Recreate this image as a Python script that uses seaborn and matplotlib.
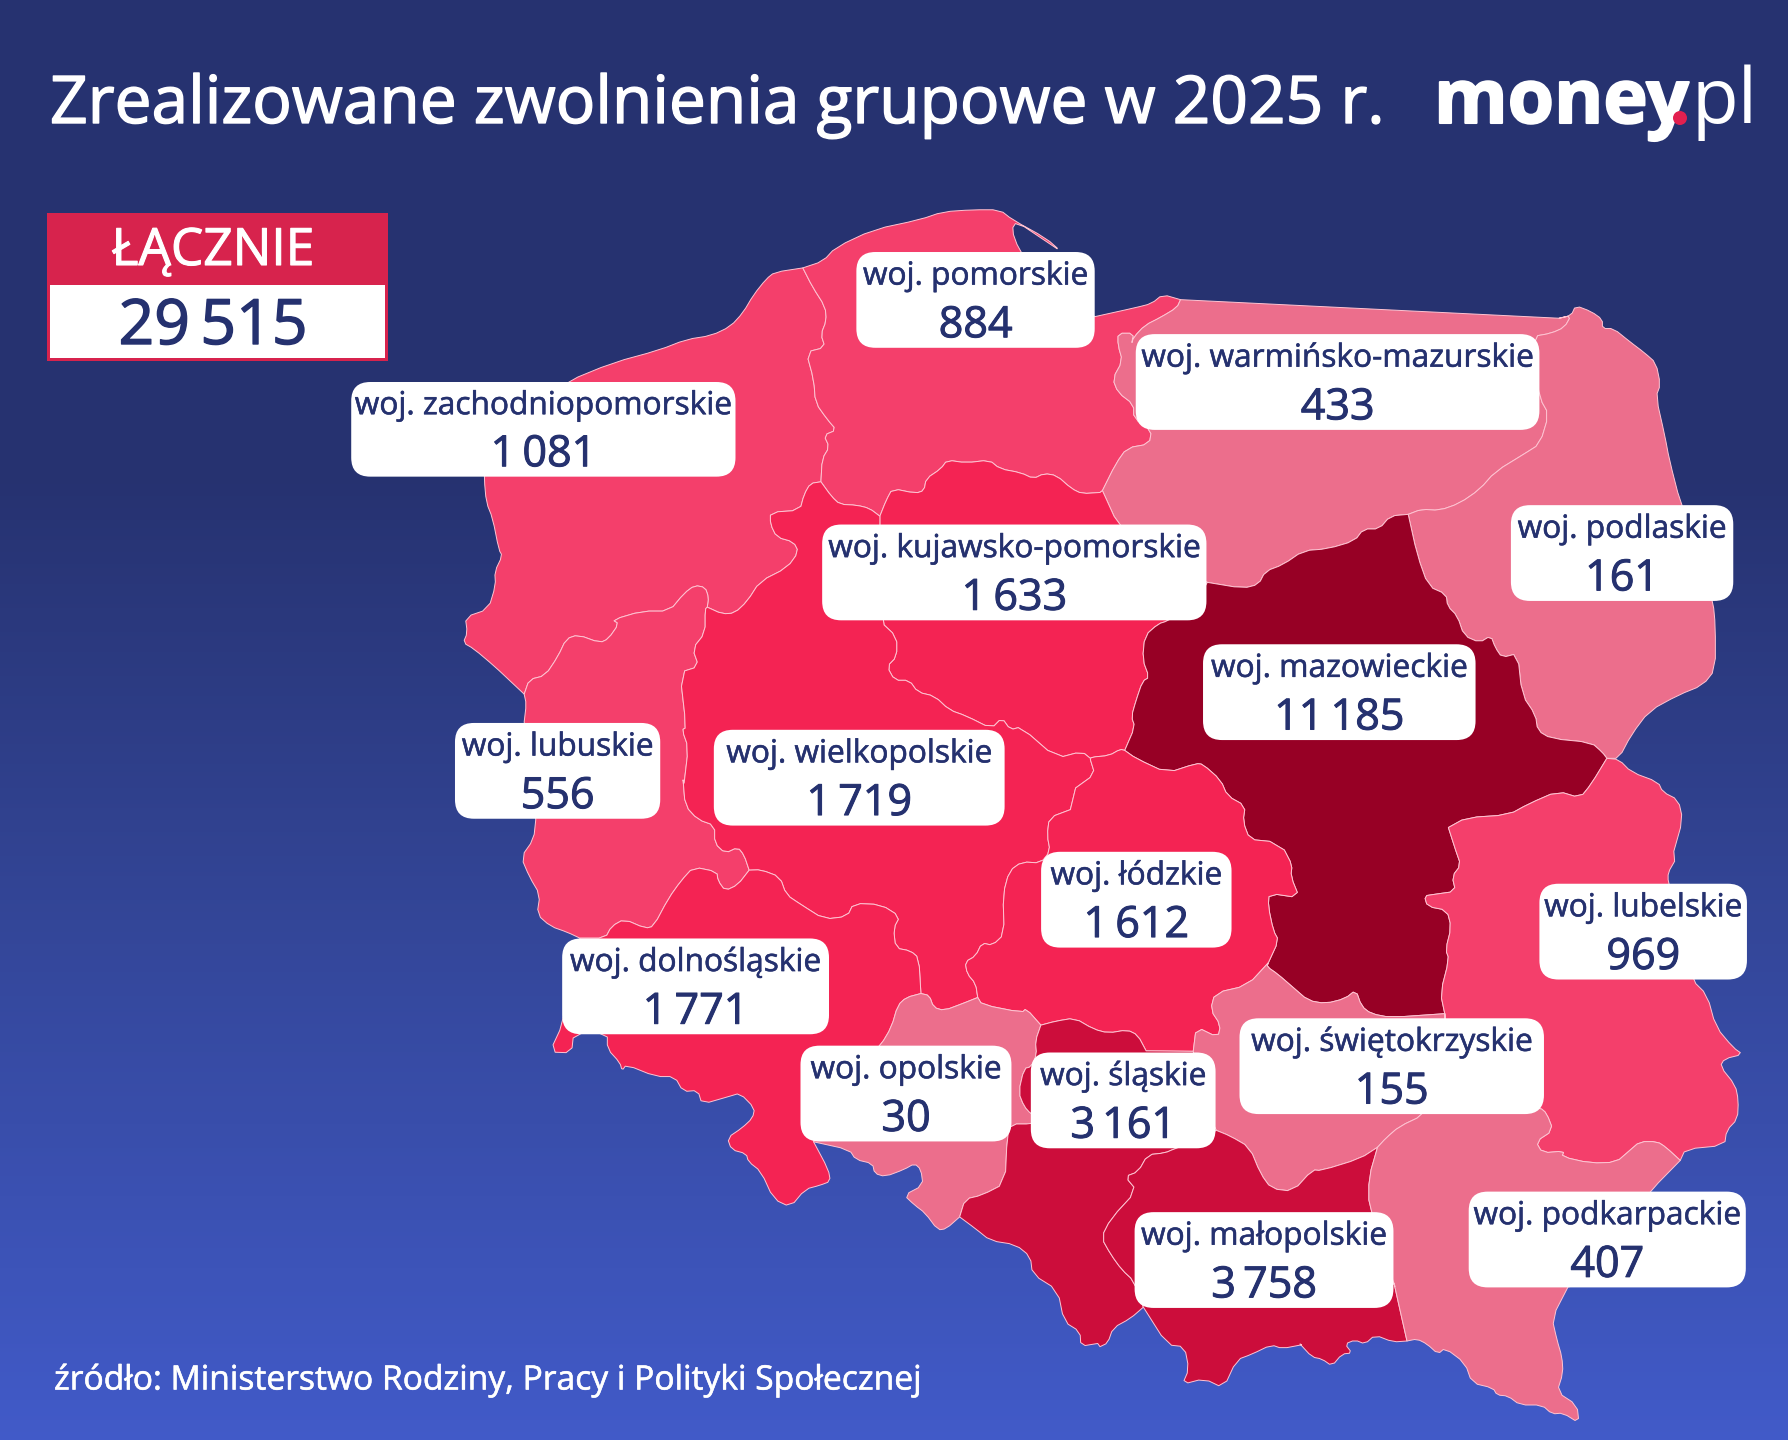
import numpy as np
import matplotlib
matplotlib.use('Agg')
import matplotlib.pyplot as plt
import matplotlib.patheffects as pe
from matplotlib.patches import FancyBboxPatch, Rectangle, Circle
import seaborn as sns

# --- data ---
regions = ['zachodniopomorskie', 'pomorskie', 'warmińsko-mazurskie', 'podlaskie',
           'kujawsko-pomorskie', 'mazowieckie', 'lubuskie', 'wielkopolskie',
           'łódzkie', 'lubelskie', 'dolnośląskie', 'świętokrzyskie',
           'opolskie', 'śląskie', 'małopolskie', 'podkarpackie']
values = [1081, 884, 433, 161, 1633, 11185, 556, 1719, 1612, 969, 1771, 155, 30, 3161, 3758, 407]
class_edges = [500, 1100, 2000, 5000]
class_colors = ['#EC6E8C', '#F43F6B', '#F42353', '#CC0D3B', '#970025']

title = 'Zrealizowane zwolnienia grupowe w 2025 r.'
source = 'źródło: Ministerstwo Rodziny, Pracy i Polityki Społecznej'

boxes = {'zachodniopomorskie': (308, 645, 335, 418), 'pomorskie': (751, 960, 221, 305),
         'warmińsko-mazurskie': (996, 1350, 293, 377), 'podlaskie': (1325, 1520, 443, 527),
         'kujawsko-pomorskie': (721, 1058, 460, 544), 'mazowieckie': (1055, 1294, 565, 649),
         'lubuskie': (399, 579, 634, 718), 'wielkopolskie': (626, 881, 640, 724),
         'łódzkie': (913, 1080, 747, 831), 'lubelskie': (1350, 1532, 775, 859),
         'dolnośląskie': (493, 727, 823, 907), 'świętokrzyskie': (1087, 1354, 893, 977),
         'opolskie': (702, 887, 917, 1001), 'śląskie': (904, 1066, 923, 1007),
         'małopolskie': (995, 1222, 1063, 1147), 'podkarpackie': (1288, 1531, 1045, 1129)}

# round the corners of a traced border a little, end points stay where they are
def smooth(pts):
    pts = np.array(pts, dtype=float)
    if len(pts) < 3:
        return [tuple(q) for q in pts]
    out = [pts[0]]
    for p0, p1 in zip(pts[:-1], pts[1:]):
        out += [0.75 * p0 + 0.25 * p1, 0.25 * p0 + 0.75 * p1]
    out.append(pts[-1])
    return [tuple(q) for q in out]

# borders were traced on four crops of the picture, each normalised to 1568 units
def a(*p): return smooth([(440 + x * 660 / 1568, 190 + y * 620 / 1568) for x, y in p])
def b(*p): return smooth([(1060 + x * 700 / 1568, 270 + y * 620 / 1568) for x, y in p])
def c(*p): return smooth([(500 + x * 660 / 1568, 780 + y * 620 / 1568) for x, y in p])
def d(*p): return smooth([(1100 + x * 680 / 1568, 850 + y * 590 / 1568) for x, y in p])
def p(*q): return smooth(q)

coast_zp = a((862, 197), (795, 208), (775, 225), (745, 265), (720, 310), (690, 345), (645, 368), (585, 378),
             (520, 405), (410, 437), (300, 485), (190, 570), (105, 650), (105, 730), (110, 790), (125, 830),
             (140, 910), (148, 925), (130, 965), (132, 1000), (115, 1060), (60, 1080), (65, 1120), (55, 1145),
             (80, 1160), (130, 1205), (170, 1245), (200, 1275))
zp_lub = a((200, 1275), (212, 1238), (250, 1228), (280, 1180), (300, 1135), (328, 1125), (380, 1145), (400, 1135),
           (425, 1097), (410, 1087), (480, 1065), (545, 1065), (580, 1020), (605, 1000), (630, 1005), (638, 1030),
           (635, 1055))
zp_wlkp = a((635, 1055), (670, 1072), (700, 1070), (730, 1040), (760, 990), (825, 955), (852, 915), (840, 890),
            (800, 878), (785, 845), (785, 815), (855, 810), (865, 770), (880, 742), (905, 738))
zp_pom = a((905, 738), (908, 680), (925, 650), (912, 620), (942, 607), (920, 580), (892, 538), (888, 480),
           (870, 410), (915, 398), (905, 365), (918, 330), (915, 295), (885, 245), (862, 197))
coast_pom = a((862, 197), (910, 180), (940, 145), (1030, 100), (1140, 75), (1195, 55), (1265, 50), (1330, 50),
              (1360, 75), (1440, 122), (1475, 155), (1440, 130), (1370, 80), (1358, 100), (1375, 150),
              (1420, 220)) + b((78, 118), (170, 95), (205, 85), (230, 62), (270, 75))
pom_warm = b((270, 75), (262, 95), (225, 120), (190, 140), (165, 170), (160, 188), (165, 160), (130, 160), (130, 190),
             (140, 230), (118, 275), (130, 310), (165, 340), (165, 375), (205, 405), (200, 440), (150, 450),
             (125, 490), (95, 558))
pom_kp = a((1568, 765), (1525, 768), (1500, 755), (1465, 722), (1435, 717), (1410, 730), (1380, 715), (1330, 705),
           (1305, 683), (1250, 690), (1205, 683), (1190, 705), (1155, 730), (1150, 760), (1130, 767), (1075, 755),
           (1060, 785), (1045, 825))
pom_wlkp = a((1045, 825), (1020, 805), (990, 797), (950, 795), (930, 775), (905, 738))
warm_top = b((270, 75), (1118, 122))
warm_podl = b((1118, 122), (1145, 115), (1130, 145), (1100, 160), (1060, 168), (1065, 250), (1075, 325), (1095, 365),
              (1075, 440), (1040, 465), (975, 510), (940, 555), (895, 590), (850, 608), (810, 605), (780, 618))
warm_maz = b((780, 618), (740, 622), (715, 655), (680, 655), (660, 685), (600, 705), (545, 710), (500, 745),
             (460, 762), (445, 795), (410, 805), (330, 790))
warm_kp = b((95, 558), (130, 645), (200, 720), (330, 790))
kp_maz = b((330, 790), (300, 850), (240, 888), (220, 895), (190, 925), (185, 985), (200, 1030), (185, 1040),
           (170, 1090), (160, 1130), (168, 1155), (145, 1215))
kp_lodz = b((145, 1215), (135, 1212), (110, 1228), (70, 1232), (68, 1238))
lodz_maz = b((145, 1215), (170, 1235), (240, 1272), (305, 1248), (320, 1250), (360, 1290), (375, 1330), (415, 1355),
             (410, 1395), (425, 1440), (470, 1445)) + d((425, 0), (443, 40), (440, 70), (460, 127), (390, 115),
                                                         (388, 150), (400, 215), (412, 240), (388, 300))
maz_swiet = d((388, 300), (385, 310), (410, 330), (445, 365), (480, 400), (520, 408), (565, 395), (590, 372),
              (603, 415), (625, 435), (670, 445), (795, 435))
maz_lub = d((795, 435), (785, 380), (805, 290), (797, 265), (810, 205), (800, 160), (755, 150), (748, 122),
            (770, 118), (820, 110), (812, 70), (832, 40), (820, 0)) + b((870, 1410), (910, 1385), (1005, 1378),
                                                                         (1050, 1350), (1115, 1318), (1165, 1335),
                                                                         (1190, 1300), (1225, 1235))
maz_podl = b((1225, 1235), (1215, 1220), (1190, 1195), (1100, 1185), (1070, 1165), (1065, 1125), (1035, 1075),
             (1025, 970), (990, 980), (975, 955), (965, 925), (940, 942), (905, 925), (890, 875), (868, 850),
             (865, 820), (825, 800), (800, 720), (780, 618))
coast_podl = b((1118, 122), (1145, 115), (1155, 90), (1190, 105), (1215, 125), (1215, 148), (1240, 148), (1275, 180),
               (1310, 210), (1335, 235), (1345, 290), (1335, 320), (1355, 420), (1365, 480), (1390, 590), (1430, 700),
               (1463, 840), (1468, 900), (1468, 1010), (1440, 1050), (1385, 1075), (1320, 1115), (1280, 1175),
               (1252, 1235), (1225, 1235))
east_lub = b((1225, 1235), (1252, 1238), (1280, 1270), (1340, 1295), (1350, 1320), (1385, 1340), (1395, 1390),
             (1375, 1470)) + d((1325, 30), (1310, 60), (1310, 85), (1340, 220), (1365, 345), (1400, 385), (1420, 470),
                               (1460, 525), (1482, 543), (1440, 555), (1430, 575), (1465, 625), (1472, 665), (1470, 715),
                               (1445, 745), (1440, 785), (1350, 795), (1338, 825))
lub_podk = d((1338, 825), (1305, 790), (1285, 775), (1245, 775), (1220, 800), (1190, 830), (1130, 832), (1065, 815),
             (1070, 800), (1020, 805), (1005, 775), (1045, 745), (1030, 700), (1015, 685), (800, 620))
swiet_lub = d((800, 620), (795, 435))
swiet_podk = d((640, 790), (660, 765), (690, 735), (745, 705), (800, 620))
swiet_mlp = d((268, 745), (300, 760), (345, 790), (370, 860), (395, 900), (445, 907), (490, 850), (510, 852),
              (600, 820), (640, 790))
swiet_sl = d((268, 745), (230, 650), (215, 535))
swiet_lodz = d((215, 535), (222, 470), (272, 498), (278, 465), (255, 425), (265, 380), (340, 360), (388, 300))
mlp_podk = d((640, 790), (620, 870), (620, 950), (680, 1160)) + p((1394, 1283), (1400, 1310), (1407, 1341))
south_mlp = p((1407, 1341), (1393, 1342), (1375, 1335), (1365, 1344), (1355, 1340), (1345, 1344), (1352, 1353),
              (1342, 1354), (1332, 1366), (1322, 1359), (1312, 1357), (1300, 1344)) + d(
    (465, 1315), (420, 1325), (395, 1315), (350, 1340), (315, 1355), (285, 1430), (240, 1405), (190, 1420),
    (205, 1380), (195, 1320), (155, 1315), (100, 1215))
sl_mlp = d((268, 745), (230, 770), (170, 795), (150, 805), (110, 810), (88, 855), (58, 868), (85, 905), (25, 980),
           (3, 1030), (25, 1075), (50, 1115), (78, 1145), (100, 1215))
south_sl = d((100, 1215), (70, 1245), (30, 1270), (18, 1310), (0, 1320)) + c((1420, 1425), (1380, 1432), (1378, 1395),
                                                                              (1340, 1370), (1325, 1290), (1265, 1250),
                                                                              (1260, 1205), (1225, 1175), (1165, 1165),
                                                                              (1130, 1135), (1092, 1105))
lodz_sl = c((1285, 620), (1320, 610), (1365, 602), (1410, 630), (1445, 640), (1490, 632), (1515, 645),
            (1535, 685)) + d((215, 535))
op_sl = c((1285, 620), (1272, 660), (1275, 695), (1262, 725), (1245, 730), (1232, 790), (1245, 825), (1262, 845),
          (1290, 860), (1262, 870), (1215, 870), (1205, 900), (1200, 1020), (1145, 1050), (1105, 1060), (1092, 1105))
south_op = c((1092, 1105), (1060, 1135), (1040, 1138), (1010, 1095), (985, 1075), (960, 1050), (1005, 1025),
             (1000, 985), (985, 970), (960, 985), (915, 1003), (890, 995), (885, 970), (845, 960), (830, 935), (745, 915))
dol_op = c((745, 915), (800, 800), (905, 670), (930, 625), (945, 570), (965, 550), (1000, 540))
wlkp_op = c((1000, 540), (1020, 545), (1030, 575), (1055, 583), (1100, 565), (1135, 550))
lodz_op = c((1135, 550), (1145, 568), (1240, 588), (1250, 578), (1285, 620))
dol_wlkp = c((1000, 540), (995, 450), (975, 432), (940, 425), (935, 375), (950, 345), (905, 315), (840, 312),
             (825, 345), (770, 352), (715, 315), (680, 290), (665, 245), (620, 227), (592, 228))
lub_dol = c((592, 228), (565, 265), (535, 280), (518, 255), (515, 232), (460, 220), (430, 255), (400, 300), (365, 370),
            (345, 375), (295, 352), (265, 370), (250, 400), (190, 400))
south_dol = c((190, 400), (150, 615), (118, 688), (170, 690), (175, 640), (255, 640), (255, 680), (285, 715),
              (290, 735), (300, 720), (370, 750), (415, 750), (435, 788), (470, 785), (480, 820), (545, 800),
              (570, 792), (605, 830), (600, 855), (575, 880), (540, 905), (550, 935), (585, 945), (590, 965),
              (620, 990), (650, 1060), (690, 1080), (725, 1035), (760, 1025), (785, 1015), (780, 985), (745, 915))
west_lub = a((200, 1275), (205, 1300), (200, 1345)) + c((85, 100), (80, 150), (50, 195), (70, 245), (95, 290), (88, 340),
                                                         (120, 370), (160, 385), (190, 400))
lub_wlkp = c((592, 228), (580, 190), (565, 170), (535, 185), (510, 160), (510, 115), (470, 100), (440, 65),
             (435, 0)) + a((580, 1500), (590, 1410), (575, 1365), (585, 1360), (570, 1220), (615, 1205), (600, 1160),
                           (630, 1120), (630, 1060), (635, 1055))
kp_wlkp = a((1045, 825), (1045, 1090), (1085, 1130), (1085, 1180), (1062, 1205), (1080, 1240), (1115, 1240), (1135, 1270),
            (1175, 1280), (1210, 1315), (1250, 1330), (1310, 1362), (1335, 1335), (1355, 1365), (1380, 1358),
            (1465, 1437), (1525, 1420), (1548, 1440))
wlkp_lodz = b((68, 1238), (78, 1275), (35, 1310)) + c((1355, 75), (1305, 95), (1300, 140), (1307, 180), (1285, 210),
                                                       (1240, 207), (1210, 230), (1195, 290), (1198, 390), (1170, 418),
                                                       (1145, 412), (1130, 445), (1105, 460), (1110, 490), (1130, 515),
                                                       (1135, 550))
east_podk = d((1338, 825), (1270, 905), (1085, 1160)) + p(
    (1568, 1287), (1552, 1318), (1557, 1340), (1562, 1357), (1563, 1373), (1557, 1392), (1577, 1405), (1579, 1423),
    (1563, 1413), (1552, 1414), (1542, 1405), (1520, 1405), (1508, 1396), (1497, 1395), (1493, 1388), (1472, 1383),
    (1465, 1363), (1445, 1348), (1438, 1354), (1427, 1344), (1417, 1339), (1407, 1341))

def rev(seg):
    return seg[::-1]

outlines = {
    'zachodniopomorskie': coast_zp + zp_lub + zp_wlkp + zp_pom,
    'pomorskie': coast_pom + pom_warm + pom_kp + pom_wlkp + zp_pom,
    'warmińsko-mazurskie': warm_top + warm_podl + warm_maz + rev(warm_kp) + rev(pom_warm),
    'podlaskie': rev(warm_podl) + coast_podl + maz_podl,
    'kujawsko-pomorskie': rev(pom_kp) + warm_kp + kp_maz + kp_lodz + rev(kp_wlkp),
    'mazowieckie': warm_maz + kp_maz + lodz_maz + maz_swiet + maz_lub + maz_podl,
    'lubuskie': rev(zp_lub) + west_lub + rev(lub_dol) + lub_wlkp,
    'wielkopolskie': lub_wlkp + zp_wlkp + rev(pom_wlkp) + kp_wlkp + wlkp_lodz + rev(wlkp_op) + dol_wlkp,
    'łódzkie': rev(kp_lodz) + lodz_maz + rev(swiet_lodz) + rev(lodz_sl) + rev(lodz_op) + rev(wlkp_lodz),
    'lubelskie': east_lub + lub_podk + swiet_lub + maz_lub,
    'dolnośląskie': dol_wlkp + lub_dol + south_dol + dol_op,
    'świętokrzyskie': maz_swiet + swiet_lub + rev(swiet_podk) + rev(swiet_mlp) + swiet_sl + swiet_lodz,
    'opolskie': wlkp_op + lodz_op + op_sl + south_op + dol_op,
    'śląskie': lodz_sl + rev(swiet_sl) + sl_mlp + south_sl + rev(op_sl),
    'małopolskie': swiet_mlp + mlp_podk + south_mlp + rev(sl_mlp),
    'podkarpackie': swiet_podk + rev(lub_podk) + east_podk + rev(mlp_podk),
}

# --- style ---
sns.set_theme(style='white')
plt.rcParams['font.family'] = ['Open Sans', 'DejaVu Sans']
navy = '#25316F'
palette = sns.color_palette(class_colors)
classes = np.digitize(values, class_edges)
view = 1788 / 1568

def heavy(color, width):
    return [pe.withStroke(linewidth=width, foreground=color)]

def spaced(v):
    return f'{v:,}'.replace(',', '\u2009')

fig = plt.figure(figsize=(17.88, 14.4), dpi=100)

# gradient background
ax_bg = fig.add_axes([0, 0, 1, 1])
grad_cmap = sns.blend_palette(['#263270', '#263270', '#34479B', '#415AC8'], n_colors=256, as_cmap=True)
sns.heatmap(np.linspace(0, 1, 360).reshape(-1, 1), cmap=grad_cmap, cbar=False,
            xticklabels=False, yticklabels=False, ax=ax_bg)

ax = fig.add_axes([0, 0, 1, 1])
ax.set_xlim(0, 1788)
ax.set_ylim(1440, 0)
ax.axis('off')

# map
for name, cls in zip(regions, classes):
    pts = np.array(outlines[name])
    ax.fill(pts[:, 0], pts[:, 1], facecolor=palette[cls], edgecolor='#FFC4D2', linewidth=0.7, joinstyle='round', zorder=2)

# labels
for name, val in zip(regions, values):
    l, r, t, bt = [v * view for v in boxes[name]]
    ax.add_patch(FancyBboxPatch((l, t), r - l, bt - t, boxstyle='round,pad=0,rounding_size=19',
                                facecolor='white', edgecolor='none', zorder=3))
    xc = (l + r) / 2
    ax.text(xc, t + 0.34 * (bt - t), 'woj. ' + name, ha='center', va='baseline', color=navy, fontsize=22.8,
            path_effects=heavy(navy, 0.4), zorder=4)
    ax.text(xc, t + 0.89 * (bt - t), spaced(val), ha='center', va='baseline', color=navy,
            fontsize=31, path_effects=heavy(navy, 0.7), zorder=4)

# title, logo, source
ax.text(50, 123, title, ha='left', va='baseline', color='white', fontsize=47.4,
        path_effects=heavy('white', 1.0), zorder=4)
ax.text(1434, 123, 'money', ha='left', va='baseline', color='white', fontsize=54, fontweight='bold',
        path_effects=heavy('white', 1.5), zorder=4)
ax.add_patch(Circle((1680, 118), 7, facecolor='#E2204F', edgecolor='none', zorder=5))
ax.text(1692, 123, 'pl', ha='left', va='baseline', color='white', fontsize=55, zorder=4)
ax.text(54, 1380, source, ha='left', va='center', color='white', fontsize=24.2,
        path_effects=heavy('white', 0.4), zorder=4)

# total box
ax.add_patch(Rectangle((47, 213), 341, 148, facecolor='#D7234D', edgecolor='none', zorder=3))
ax.add_patch(Rectangle((50, 285), 335, 73, facecolor='white', edgecolor='none', zorder=4))
ax.text(213, 265, 'ŁĄCZNIE', ha='center', va='baseline', color='white', fontsize=37,
        path_effects=heavy('white', 0.8), zorder=5)
ax.text(213, 344, spaced(sum(values)), ha='center', va='baseline', color=navy, fontsize=45,
        path_effects=heavy(navy, 1.0), zorder=5)

fig.savefig('out.png', dpi=100)
